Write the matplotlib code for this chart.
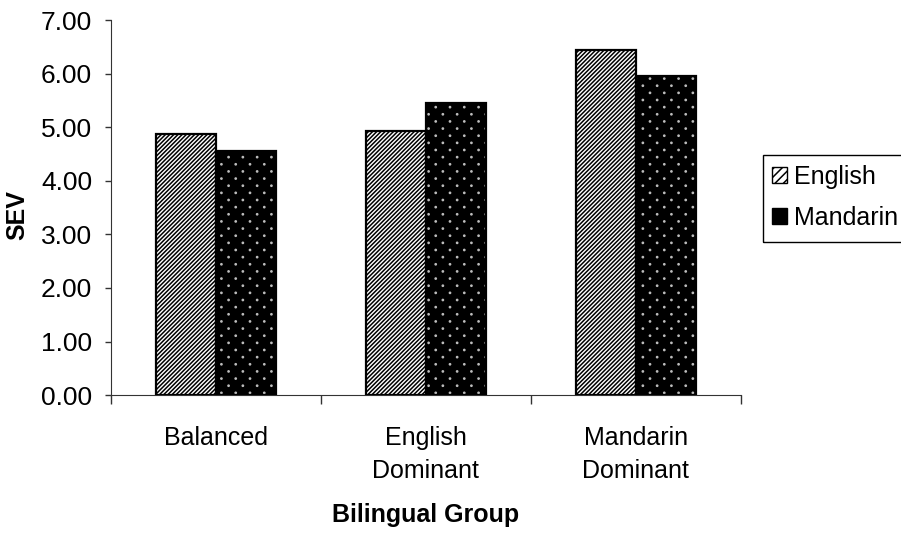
import matplotlib
matplotlib.use("Agg")
import matplotlib.pyplot as plt
import numpy as np
from matplotlib import hatch as mhatch
from matplotlib.path import Path
from matplotlib.patches import Patch, Rectangle


class DotLattice(mhatch.HatchPatternBase):
    """Small filled dots on a staggered lattice: wide spacing along a row,
    tight spacing between rows (used for the '.' hatch)."""

    def __init__(self, hatch, density):
        n = hatch.count('.')
        self.ncols = 7 * n
        self.nrows = 14 * n
        circ = Path.unit_circle()
        self.shape_vertices = circ.vertices
        self.shape_codes = circ.codes
        if n == 0:
            self.num_vertices = 0
        else:
            count = ((self.nrows // 2 + 1) * (self.ncols + 1)
                     + (self.nrows // 2) * self.ncols)
            self.num_vertices = count * len(self.shape_vertices)

    def set_vertices_and_codes(self, vertices, codes):
        r = 0.006
        verts, cods = [], []
        for row in range(self.nrows + 1):
            y = row / self.nrows
            if row % 2 == 0:
                xs = np.linspace(0, 1, self.ncols + 1)
            else:
                xs = (np.arange(self.ncols) + 0.5) / self.ncols
            for xc in xs:
                verts.append(self.shape_vertices * r + [xc, y])
                cods.append(self.shape_codes)
        np.concatenate(verts, out=vertices)
        np.concatenate(cods, out=codes)


mhatch._hatch_types = [DotLattice if t is mhatch.SmallFilledCircles else t
                       for t in mhatch._hatch_types]

plt.rcParams['font.family'] = ['Liberation Sans', 'DejaVu Sans']
plt.rcParams['hatch.linewidth'] = 1.1

groups = ["Balanced", "English\nDominant", "Mandarin\nDominant"]
english = [4.87, 4.93, 6.44]
mandarin = [4.55, 5.45, 5.95]
yticks = [0, 1, 2, 3, 4, 5, 6, 7]

FS = 18
W, H = 901, 534

fig = plt.figure(figsize=(W / 100, H / 100), dpi=100)
ax = fig.add_axes([0.123, 0.260, 0.699, 0.7025])

x = np.arange(len(groups)) + 0.5
w = 1 / 3.5

# English: white bars with dense diagonal stripes
ax.bar(x - w / 2, english, w, facecolor="white", edgecolor="black",
       hatch="////////", linewidth=0, zorder=2)
ax.bar(x - w / 2, english, w, facecolor="none", edgecolor="black",
       linewidth=1.6, zorder=3)

# Mandarin: black bars with small light dots
ax.bar(x + w / 2, mandarin, w, facecolor="black", edgecolor="black",
       linewidth=0, zorder=2)
ax.bar(x + w / 2, mandarin, w, facecolor="none", edgecolor="#bdbdbd",
       hatch=".", linewidth=0, zorder=3)
ax.bar(x + w / 2, mandarin, w, facecolor="none", edgecolor="black",
       linewidth=1.6, zorder=4)

ax.set_xlim(0, 3)
ax.set_ylim(0, 7)
ax.set_yticks(yticks)
ax.set_yticklabels([f"{v:.2f}" for v in yticks], fontsize=19)
ax.set_xticks([0, 1, 2, 3])
ax.set_xticklabels([])
ax.set_xticks(x, minor=True)
ax.set_xticklabels(groups, minor=True, fontsize=FS, linespacing=1.5)
ax.tick_params(axis="x", which="minor", length=0, pad=22)
ax.tick_params(axis="x", which="major", length=6.5, direction="out",
               width=1, color="#333333")
ax.tick_params(axis="y", length=4.5, direction="out", width=1, pad=9,
               color="#333333")

for s in ["top", "right"]:
    ax.spines[s].set_visible(False)
for s in ["left", "bottom"]:
    ax.spines[s].set_color("#333333")

ax.set_ylabel("SEV", fontsize=FS, fontweight="bold")
ax.yaxis.set_label_coords(-0.13, 0.48)
ax.set_xlabel("Bilingual Group", fontsize=FS, fontweight="bold", labelpad=14)

# Legend entries, with a plain rectangular frame running off the right edge
handles = [
    Patch(facecolor="white", edgecolor="black", hatch="////", label="English"),
    Patch(facecolor="black", edgecolor="black", label="Mandarin"),
]
fig.legend(handles=handles, loc="upper left",
           bbox_to_anchor=(772 / W, 1 - 165 / H),
           frameon=False, fontsize=FS,
           handlelength=0.58, handleheight=0.58, handletextpad=0.32,
           borderpad=0, labelspacing=0.67, borderaxespad=0)
fig.add_artist(Rectangle((762.7 / W, 1 - 241.7 / H), 150 / W, 86.7 / H,
                         transform=fig.transFigure, facecolor="none",
                         edgecolor="black", linewidth=1, clip_on=False))

fig.savefig("out.png", dpi=100)
